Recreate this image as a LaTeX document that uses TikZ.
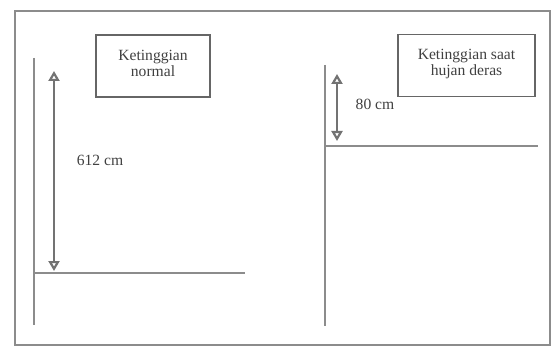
\documentclass[tikz,border=0pt]{standalone}
\usepackage{fontspec}
\setmainfont{Liberation Serif}
\usetikzlibrary{positioning}
\usetikzlibrary{arrows.meta}

\begin{document}
\begin{tikzpicture}[x=0.5pt,y=-0.5pt,line width=1pt,
  garis/.style={draw=black!45},
  kotak/.style={draw=black!60,line width=0.7pt,inner sep=0pt,minimum height=31pt},
  teks/.style={font=\fontsize{7.8}{8}\selectfont,text=black!75,align=center},
  panah/.style={{Triangle[open,length=5pt,width=5.5pt]}-{Triangle[open,length=5pt,width=5.5pt]},draw=black!55,line width=1.1pt}]

  \useasboundingbox (0,0) rectangle (552,353);
  \draw[garis] (15,11) rectangle (550,345);

  \node[kotak,minimum width=57pt] (normal) at (153,66) {};
  \node[teks,anchor=north] (tnormal) at ([yshift=-4pt]normal.north) {Ketinggian\\normal};
  \node[kotak,minimum width=68.5pt] (hujan) at (466.5,65.5) {};
  \node[teks,anchor=north] (thujan) at ([yshift=-4pt]hujan.north) {Ketinggian saat\\hujan deras};

  \coordinate (kiriatas) at (34,58);
  \coordinate (kiribawah) at (34,325);
  \coordinate (airkiri) at (34,273);
  \coordinate (airkirikanan) at (245,273);
  \coordinate (kananatas) at (325,65);
  \coordinate (kananbawah) at (325,326);
  \coordinate (airkanan) at (325,146);
  \coordinate (airkanankanan) at (538,146);

  \coordinate (p1) at (54,71);
  \coordinate (p2) at (54,271);
  \coordinate (q1) at (337,74);
  \coordinate (q2) at (337,141);

  \node[teks] (ukur1) at (100,160) {612 cm};
  \node[teks] (ukur2) at (375,104) {80 cm};

  \draw[garis] (kiriatas) -- (kiribawah);
  \draw[garis] (airkiri) -- (airkirikanan);
  \draw[garis] (kananatas) -- (kananbawah);
  \draw[garis] (airkanan) -- (airkanankanan);
  \draw[panah] (p1) -- (p2);
  \draw[panah] (q1) -- (q2);
\end{tikzpicture}
\end{document}
